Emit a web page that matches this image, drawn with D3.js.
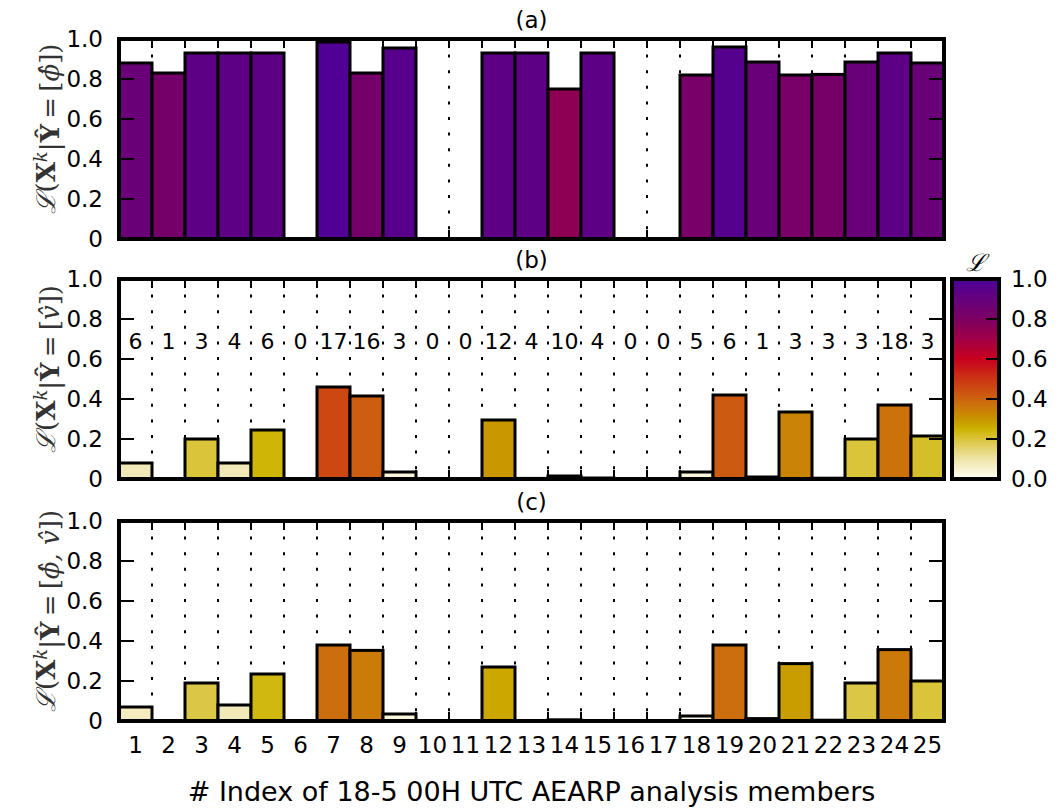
<!DOCTYPE html>
<meta charset="utf-8">
<html>
<script src="https://d3js.org/d3.v7.min.js"></script>
<style>
  body { margin: 0; background: white; }
  text { font-family: "DejaVu Sans", sans-serif; }
</style>
<body>
<div id="my_dataviz"></div>
<script>

    // members 1..25
    const members = d3.range(1, 26)

    // (a) likelihood given phi
    const valuesA = [0.88, 0.83, 0.93, 0.93, 0.93, 0, 0.985, 0.83, 0.955, 0, 0, 0.93, 0.93, 0.75, 0.93, 0, 0, 0.82, 0.96, 0.885, 0.82, 0.823, 0.885, 0.93, 0.88]
    // (b) likelihood given v
    const valuesB = [0.08, 0, 0.2, 0.08, 0.245, 0, 0.46, 0.415, 0.035, 0, 0, 0.295, 0.003, 0.015, 0.005, 0, 0, 0.035, 0.42, 0.01, 0.335, 0.004, 0.2, 0.37, 0.215]
    // counts printed in (b)
    const countsB = [6, 1, 3, 4, 6, 0, 17, 16, 3, 0, 0, 12, 4, 10, 4, 0, 0, 5, 6, 1, 3, 3, 3, 18, 3]
    // (c) likelihood given phi and v
    const valuesC = [0.07, 0, 0.19, 0.08, 0.235, 0, 0.38, 0.353, 0.035, 0, 0, 0.27, 0.002, 0.006, 0.002, 0, 0, 0.025, 0.38, 0.012, 0.287, 0.004, 0.19, 0.357, 0.2]

    const yTicks = [0, 0.2, 0.4, 0.6, 0.8, 1.0]
    const cbarTicks = [0.0, 0.2, 0.4, 0.6, 0.8, 1.0]

    // colour map
    const cmapStops = [0.0, 0.1, 0.2, 0.25, 0.3, 0.4, 0.5, 0.6, 0.7, 0.8, 0.9, 1.0]
    const cmapColors = ["#fffff6", "#efe4a8", "#d9c43a", "#cdb300", "#c89400", "#cd6410", "#cc3414", "#c8001e", "#a00046", "#7c0062", "#66007e", "#4c0098"]

    const width = 1064, height = 809
    const left = 119, right = 944

    const panels = [
      {key: "(a)", values: valuesA, top: 39, bottom: 239, sym: "ϕ\u0302", counts: null},
      {key: "(b)", values: valuesB, top: 279, bottom: 479, sym: "v\u0302", counts: countsB},
      {key: "(c)", values: valuesC, top: 521, bottom: 721, sym: "ϕ\u0302, v\u0302", counts: null}
    ]

    const svg = d3.select("#my_dataviz")
      .append("svg")
        .attr("width", width)
        .attr("height", height)
        .style("background", "white")

    const x = d3.scaleLinear().domain([0.5, 25.5]).range([left, right])
    const color = d3.scaleLinear().domain(cmapStops).range(cmapColors).clamp(true)
    const gridPos = d3.range(1.5, 25, 1)

    panels.forEach(function(p) {
      const y = d3.scaleLinear().domain([0, 1]).range([p.bottom, p.top])
      const g = svg.append("g")

      // dotted grid behind the bars
      g.selectAll("line.grid")
        .data(gridPos)
        .join("line")
          .attr("x1", d => x(d)).attr("x2", d => x(d))
          .attr("y1", p.top).attr("y2", p.bottom)
          .attr("stroke", "black")
          .attr("stroke-width", 2)
          .attr("stroke-dasharray", "3,12.6")

      // bars
      g.selectAll("rect.bar")
        .data(members.filter((m, i) => p.values[i] > 0))
        .join("rect")
          .attr("x", d => x(d - 0.5))
          .attr("width", d => x(d + 0.5) - x(d - 0.5))
          .attr("y", d => y(p.values[d - 1]))
          .attr("height", d => y(0) - y(p.values[d - 1]))
          .attr("fill", d => color(p.values[d - 1]))
          .attr("stroke", "black")
          .attr("stroke-width", 3)

      // x ticks top and bottom (inward)
      g.selectAll("line.xt")
        .data(gridPos)
        .join("line")
          .attr("x1", d => x(d)).attr("x2", d => x(d))
          .attr("y1", p.top).attr("y2", p.top + 9)
          .attr("stroke", "black").attr("stroke-width", 2)
      g.selectAll("line.xb")
        .data(gridPos)
        .join("line")
          .attr("x1", d => x(d)).attr("x2", d => x(d))
          .attr("y1", p.bottom).attr("y2", p.bottom - 9)
          .attr("stroke", "black").attr("stroke-width", 2)

      // y ticks left and right (inward)
      g.selectAll("line.yl")
        .data(yTicks.slice(1, 5))
        .join("line")
          .attr("x1", left).attr("x2", left + 15)
          .attr("y1", d => y(d)).attr("y2", d => y(d))
          .attr("stroke", "black").attr("stroke-width", 2)
      g.selectAll("line.yr")
        .data(yTicks.slice(1, 5))
        .join("line")
          .attr("x1", right).attr("x2", right - 15)
          .attr("y1", d => y(d)).attr("y2", d => y(d))
          .attr("stroke", "black").attr("stroke-width", 2)

      // frame
      g.append("rect")
        .attr("x", left).attr("y", p.top)
        .attr("width", right - left).attr("height", p.bottom - p.top)
        .attr("fill", "none")
        .attr("stroke", "black")
        .attr("stroke-width", 4)

      // y tick labels
      g.selectAll("text.yl")
        .data(yTicks)
        .join("text")
          .attr("x", 103)
          .attr("y", d => y(d))
          .attr("dy", "0.36em")
          .attr("text-anchor", "end")
          .style("font-size", "23px")
          .text(d => d === 0 ? "0" : d.toFixed(1))

      // panel title
      g.append("text")
        .attr("x", (left + right) / 2)
        .attr("y", p.top - 11)
        .attr("text-anchor", "middle")
        .style("font-size", "23px")
        .text(p.key)

      // counts
      if (p.counts) {
        g.selectAll("text.count")
          .data(members)
          .join("text")
            .attr("x", d => x(d))
            .attr("y", y(0.69))
            .attr("dy", "0.36em")
            .attr("text-anchor", "middle")
            .style("font-size", "22px")
            .text(d => p.counts[d - 1])
      }

      // y label (math)
      const lab = g.append("text")
        .attr("transform", `translate(46, ${(p.top + p.bottom) / 2 - 10}) rotate(-90)`)
        .attr("text-anchor", "middle")
        .attr("dy", "0.35em")
        .style("font-family", "'DejaVu Serif', serif")
        .style("font-size", "26px")
        .attr("fill", "#333")
      lab.append("tspan").style("font-style", "italic").text("ℒ")
      lab.append("tspan").text("(")
      lab.append("tspan").style("font-weight", "bold").text("X")
      lab.append("tspan").attr("dy", "-0.45em").style("font-size", "18px").style("font-style", "italic").text("k")
      lab.append("tspan").attr("dy", "0.45em").text("|")
      lab.append("tspan").style("font-weight", "bold").text("Ŷ")
      lab.append("tspan").text("\u2009=\u2009[")
      lab.append("tspan").style("font-style", "italic").text(p.sym)
      lab.append("tspan").text("])")
    })

    // x tick labels under (c)
    svg.selectAll("text.xl")
      .data(members)
      .join("text")
        .attr("x", d => x(d))
        .attr("y", 745)
        .attr("dy", "0.36em")
        .attr("text-anchor", "middle")
        .style("font-size", "23px")
        .text(d => d)

    // x axis title
    svg.append("text")
      .attr("x", (left + right) / 2)
      .attr("y", 791)
      .attr("dy", "0.36em")
      .attr("text-anchor", "middle")
      .style("font-size", "27px")
      .text("# Index of 18-5 00H UTC AEARP analysis members")

    // colour bar
    const cbL = 952, cbR = 999, cbT = 279, cbB = 479
    const yc = d3.scaleLinear().domain([0, 1]).range([cbB, cbT])
    const defs = svg.append("defs")
    const grad = defs.append("linearGradient")
      .attr("id", "cbar")
      .attr("x1", 0).attr("y1", 1).attr("x2", 0).attr("y2", 0)
    grad.selectAll("stop")
      .data(cmapStops)
      .join("stop")
        .attr("offset", d => d)
        .attr("stop-color", d => color(d))
    svg.append("rect")
      .attr("x", cbL).attr("y", cbT)
      .attr("width", cbR - cbL).attr("height", cbB - cbT)
      .attr("fill", "url(#cbar)")
    svg.selectAll("line.cbt")
      .data(cbarTicks.slice(1, 5))
      .join("line")
        .attr("x1", cbR).attr("x2", cbR - 13)
        .attr("y1", d => yc(d)).attr("y2", d => yc(d))
        .attr("stroke", "black").attr("stroke-width", 2)
    svg.append("rect")
      .attr("x", cbL).attr("y", cbT)
      .attr("width", cbR - cbL).attr("height", cbB - cbT)
      .attr("fill", "none")
      .attr("stroke", "black")
      .attr("stroke-width", 4)
    svg.selectAll("text.cbl")
      .data(cbarTicks)
      .join("text")
        .attr("x", 1011)
        .attr("y", d => yc(d))
        .attr("dy", "0.36em")
        .style("font-size", "23px")
        .text(d => d.toFixed(1))
    svg.append("text")
      .attr("x", (cbL + cbR) / 2)
      .attr("y", 262)
      .attr("dy", "0.36em")
      .attr("text-anchor", "middle")
      .style("font-family", "'DejaVu Serif', serif")
      .style("font-style", "italic")
      .style("font-size", "24px")
      .text("ℒ")

</script>
</body>
</html>
